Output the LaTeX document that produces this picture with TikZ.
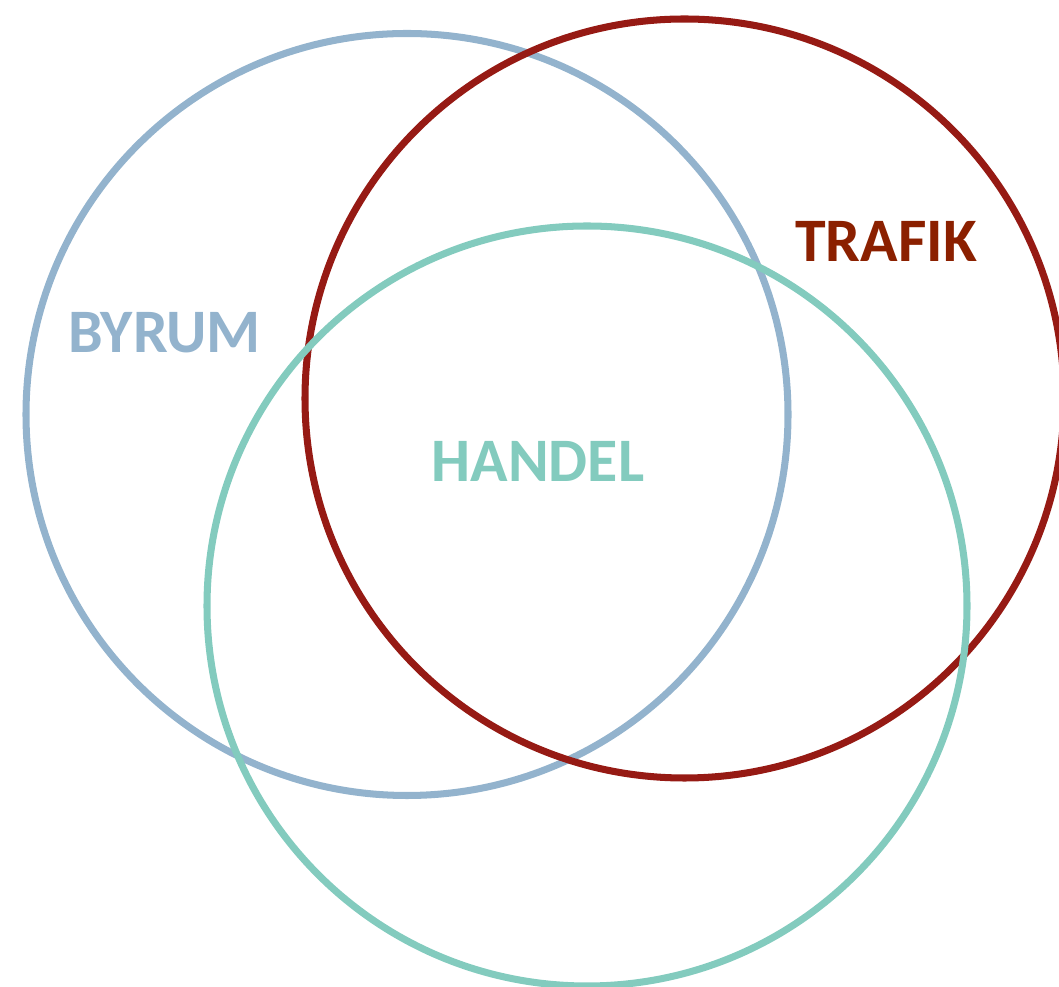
\documentclass[tikz,border=0pt]{standalone}
\usepackage{fontspec}
\setmainfont{Carlito}
\usepackage{xcolor}
\usepackage{tikz}
\definecolor{byrumblue}{HTML}{93B3CD}
\definecolor{trafikred}{HTML}{961A14}
\definecolor{trafiktext}{HTML}{8B2000}
\definecolor{handelgreen}{HTML}{83CBBE}

\begin{document}
\begin{tikzpicture}[
  ring/.style={draw=#1, line width=2pt},
  label/.style={font=\fontsize{17.6}{20}\selectfont\bfseries, inner sep=0pt, text=#1}
]
\useasboundingbox (0,0) rectangle (10.59,9.87);

\draw[ring=byrumblue] (4.07,5.725) circle (3.81);
\draw[ring=trafikred] (6.845,5.885) circle (3.795);
\draw[ring=handelgreen] (5.87,3.81) circle (3.80);

\node[label=byrumblue] (byrum) at (1.645,6.54) {BYRUM};
\node[label=trafiktext] (trafik) at (8.86,7.455) {TRAFIK};
\node[label=handelgreen] (handel) at (5.38,5.255) {HANDEL};

\end{tikzpicture}
\end{document}
